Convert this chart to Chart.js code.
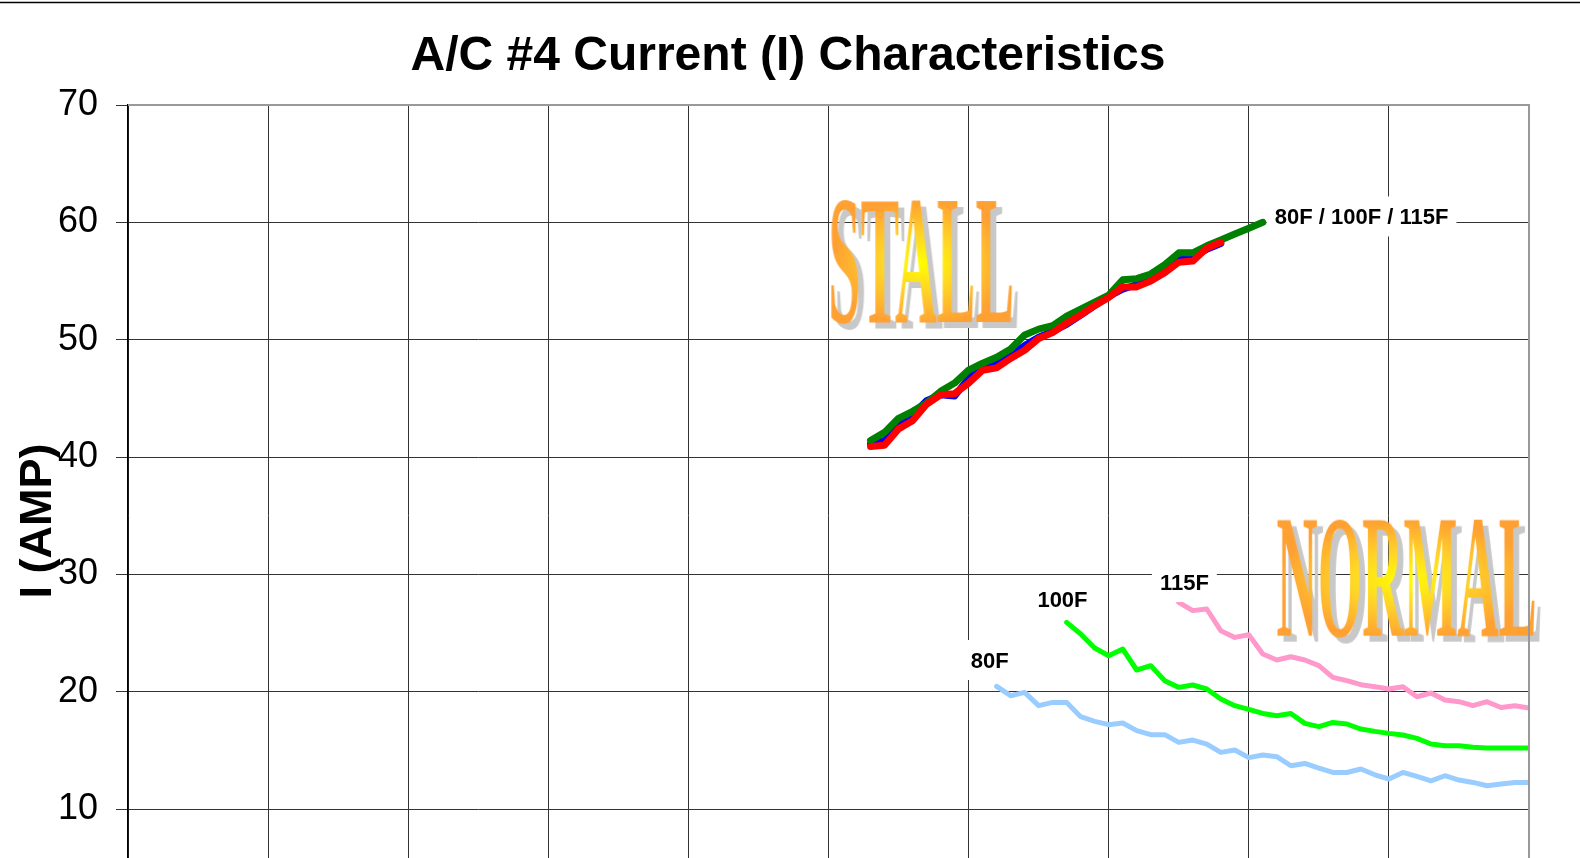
<!DOCTYPE html>
<html>
<head>
<meta charset="utf-8">
<title>A/C #4 Current (I) Characteristics</title>
<script src="https://cdn.jsdelivr.net/npm/chart.js@4.4.1/dist/chart.umd.min.js"></script>
<style>
    html, body { margin: 0; padding: 0; overflow: hidden; background: #fff; }
    canvas { display: block; }
</style>
</head>
<body>
<canvas id="currentChart" width="1580" height="966"></canvas>
<script>
// Stall readings (x positions shared by the three stall curves)
const stallX = [53, 54, 55, 56, 57, 58, 59, 60, 61, 62, 63, 64, 65, 66, 67, 68, 69, 70, 71, 72, 73, 74, 75, 76, 77, 78, 79, 80, 81];
const stall80 = [41.1, 41.4, 42.6, 43.6, 44.8, 45.3, 45.2, 46.7, 47.6, 47.9, 48.7, 49.5, 50.2, 50.7, 51.3, 52.1, 52.9, 53.7, 54.3, 54.7, 55.4, 55.8, 56.8, 57.0, 57.7, 58.2, null, null, null];
const stall100 = [41.4, 42.1, 43.3, 43.9, 44.6, 45.6, 46.3, 47.4, 48.0, 48.5, 49.2, 50.4, 50.9, 51.2, 52.0, 52.6, 53.2, 53.8, 55.1, 55.2, 55.6, 56.4, 57.4, 57.4, 58.0, 58.5, 59.0, 59.5, 60.0];
const stall115 = [40.9, 41.0, 42.4, 43.1, 44.5, 45.3, 45.4, 46.3, 47.4, 47.6, 48.4, 49.1, 50.1, 50.6, 51.4, 52.1, 52.9, 53.6, 54.5, 54.5, 55.0, 55.7, 56.6, 56.7, 57.8, 58.3, null, null, null];

// Normal running readings
const normalX = [62, 63, 64, 65, 66, 67, 68, 69, 70, 71, 72, 73, 74, 75, 76, 77, 78, 79, 80, 81, 82, 83, 84, 85, 86, 87, 88, 89, 90, 91, 92, 93, 94, 95, 96, 97, 98, 99, 100];
const normal80 = [20.45, 19.66, 19.94, 18.81, 19.09, 19.09, 17.87, 17.47, 17.19, 17.33, 16.68, 16.34, 16.34, 15.68, 15.88, 15.54, 14.83, 15.03, 14.38, 14.6, 14.46, 13.69, 13.89, 13.49, 13.12, 13.12, 13.41, 12.92, 12.56, 13.12, 12.78, 12.41, 12.84, 12.47, 12.27, 11.99, 12.13, 12.27, 12.27];
const normal100 = [null, null, null, null, null, 25.91, 24.92, 23.73, 23.07, 23.64, 21.85, 22.22, 20.94, 20.37, 20.57, 20.23, 19.38, 18.81, 18.5, 18.15, 17.95, 18.15, 17.3, 17.02, 17.38, 17.25, 16.82, 16.62, 16.45, 16.31, 16.02, 15.54, 15.4, 15.4, 15.26, 15.2, 15.2, 15.2, 15.2];
const normal115 = [null, null, null, null, null, null, null, null, null, null, null, null, null, 27.61, 26.91, 27.05, 25.2, 24.63, 24.85, 23.21, 22.7, 22.98, 22.7, 22.22, 21.22, 20.94, 20.6, 20.43, 20.23, 20.43, 19.57, 19.89, 19.29, 19.15, 18.81, 19.15, 18.66, 18.81, 18.61];

// Axis ticks
const xTicks = [0, 10, 20, 30, 40, 50, 60, 70, 80, 90, 100];
const yTicks = [0, 10, 20, 30, 40, 50, 60, 70];

const titleText = 'A/C #4 Current (I) Characteristics';
const yTitleText = 'I (AMP)';

// Series tags, placed in data units
const tagText = ['80F / 100F / 115F', '80F', '100F', '115F'];
const tagX = [88.05, 61.5, 66.7, 75.4];
const tagY = [60.5, 22.7, 27.85, 29.35];

// Banner words and the boxes they fill (data units)
const bannerText = ['STALL', 'NORMAL'];
const bannerX0 = [50.2, 82.0];
const bannerX1 = [63.1, 100.4];
const bannerY0 = [51.2, 24.5];
const bannerY1 = [61.9, 34.75];

const SANS = '"Liberation Sans", Arial, sans-serif';

function points(xs, ys) {
    return xs.map((x, i) => ({ x: x, y: ys[i] })).filter(p => p.y !== null);
}

function drawBanner(chart, i) {
    const ctx = chart.ctx;
    const xs = chart.scales.x, ys = chart.scales.y;
    const left = xs.getPixelForValue(bannerX0[i]);
    const right = xs.getPixelForValue(bannerX1[i]);
    const top = ys.getPixelForValue(bannerY1[i]);
    const bottom = ys.getPixelForValue(bannerY0[i]);
    const w = right - left, h = bottom - top;

    // letters go on an offscreen canvas first so the gradient can fill them
    const off = document.createElement('canvas');
    off.width = Math.ceil(w) + 4;
    off.height = Math.ceil(h) + 4;
    const o = off.getContext('2d');
    o.font = 'bold 100px "Liberation Serif", "Times New Roman", serif';
    const m = o.measureText(bannerText[i]);
    const tw = m.actualBoundingBoxLeft + m.actualBoundingBoxRight;
    const th = m.actualBoundingBoxAscent + m.actualBoundingBoxDescent;
    o.save();
    o.translate(2, 2);
    o.scale(w / tw, h / th);
    o.fillStyle = '#000';
    o.fillText(bannerText[i], m.actualBoundingBoxLeft, m.actualBoundingBoxAscent);
    o.restore();

    o.globalCompositeOperation = 'source-in';
    o.save();
    o.translate(2 + w / 2, 2 + h / 2);
    o.scale(w / h, 1);
    const g = o.createRadialGradient(0, 0, 0, 0, 0, h / 2);
    g.addColorStop(0, '#ffff00');
    g.addColorStop(0.45, '#ffd428');
    g.addColorStop(1, '#ffa033');
    o.fillStyle = g;
    o.fillRect(-h, -h, 2 * h, 2 * h);
    o.restore();

    ctx.save();
    ctx.shadowColor = '#c8c8c8';
    ctx.shadowOffsetX = 6;
    ctx.shadowOffsetY = 6;
    ctx.shadowBlur = 0;
    ctx.drawImage(off, left - 2, top - 2);
    ctx.restore();
}

const decorPlugin = {
    id: 'decor',
    beforeDatasetsDraw(chart) {
        bannerText.forEach((t, i) => drawBanner(chart, i));
    },
    afterDraw(chart) {
        const ctx = chart.ctx;
        const area = chart.chartArea;
        const xs = chart.scales.x, ys = chart.scales.y;
        ctx.save();

        // grey frame on top and right of the plot
        ctx.strokeStyle = '#999';
        ctx.lineWidth = 2;
        ctx.beginPath();
        ctx.moveTo(area.left, area.top);
        ctx.lineTo(area.right, area.top);
        ctx.lineTo(area.right, area.bottom);
        ctx.stroke();

        // rule across the top of the page
        ctx.strokeStyle = '#000';
        ctx.lineWidth = 1.5;
        ctx.beginPath();
        ctx.moveTo(0, 2.5);
        ctx.lineTo(chart.width, 2.5);
        ctx.stroke();

        // title
        ctx.fillStyle = '#000';
        ctx.font = 'bold 48px ' + SANS;
        ctx.textAlign = 'center';
        ctx.textBaseline = 'alphabetic';
        ctx.fillText(titleText, 788, 70);

        // y axis title, rotated
        ctx.save();
        ctx.translate(35, 521);
        ctx.rotate(-Math.PI / 2);
        ctx.font = 'bold 45px ' + SANS;
        ctx.fillText(yTitleText, 0, 0.358 * 45);
        ctx.restore();

        // series tags on white boxes
        ctx.font = 'bold 22px ' + SANS;
        tagText.forEach((t, i) => {
            const cx = xs.getPixelForValue(tagX[i]);
            const cy = ys.getPixelForValue(tagY[i]);
            const tw = ctx.measureText(t).width;
            ctx.fillStyle = '#fff';
            ctx.fillRect(cx - tw / 2 - 8, cy - 20, tw + 16, 40);
            ctx.fillStyle = '#000';
            ctx.fillText(t, cx, cy + 0.358 * 22);
        });

        ctx.restore();
    }
};

new Chart(document.getElementById('currentChart'), {
    type: 'line',
    data: {
        datasets: [
            { label: 'Stall 115F', data: points(stallX, stall115), borderColor: '#ff0000', borderWidth: 7, order: 0 },
            { label: 'Stall 100F', data: points(stallX, stall100), borderColor: '#008000', borderWidth: 7, order: 1 },
            { label: 'Stall 80F', data: points(stallX, stall80), borderColor: '#0000ff', borderWidth: 7, order: 2 },
            { label: 'Normal 80F', data: points(normalX, normal80), borderColor: '#99ccff', borderWidth: 5, order: 3 },
            { label: 'Normal 100F', data: points(normalX, normal100), borderColor: '#00ff00', borderWidth: 5, order: 4 },
            { label: 'Normal 115F', data: points(normalX, normal115), borderColor: '#ff99cc', borderWidth: 5, order: 5 }
        ]
    },
    options: {
        responsive: false,
        animation: false,
        layout: { padding: { top: 105, right: 51, bottom: 28, left: 0 } },
        elements: {
            point: { radius: 0 },
            line: { tension: 0, fill: false, borderCapStyle: 'round', borderJoinStyle: 'round' }
        },
        plugins: {
            legend: { display: false },
            title: { display: false },
            tooltip: { enabled: false }
        },
        scales: {
            x: {
                type: 'linear',
                min: xTicks[0],
                max: xTicks[xTicks.length - 1],
                afterBuildTicks: scale => { scale.ticks = xTicks.map(v => ({ value: v })); },
                ticks: { display: false },
                grid: { color: '#333', lineWidth: 1, drawTicks: false },
                border: { display: false },
                afterFit: scale => { scale.height = 0; }
            },
            y: {
                min: yTicks[0],
                max: yTicks[yTicks.length - 1],
                afterBuildTicks: scale => { scale.ticks = yTicks.map(v => ({ value: v })); },
                ticks: { color: '#000', padding: 18, font: { family: SANS, size: 36 } },
                grid: { color: '#333', lineWidth: 1, tickLength: 12 },
                border: { color: '#000', width: 1.5 },
                afterFit: scale => { scale.width = 128; }
            }
        }
    },
    plugins: [decorPlugin]
});
</script>
</body>
</html>
